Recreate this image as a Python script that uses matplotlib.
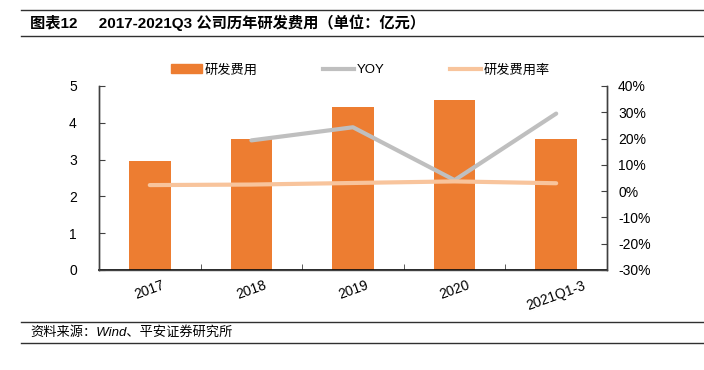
import matplotlib.pyplot as plt
import numpy as np
from matplotlib.lines import Line2D
from matplotlib.patches import Patch

plt.rcParams['font.family'] = ['Liberation Sans', 'Noto Sans CJK SC']

years = ['2017', '2018', '2019', '2020', '2021Q1-3']
rd_cost = [2.97, 3.57, 4.44, 4.63, 3.57]          # 亿元
yoy = [np.nan, 0.193, 0.243, 0.042, 0.295]
rd_rate = [0.023, 0.025, 0.031, 0.037, 0.030]

c_bar = '#ED7D31'
c_yoy = '#BFBFBF'
c_rate = '#F8C49C'

fig = plt.figure(figsize=(7.04, 3.70), dpi=100)
ax = fig.add_axes([0.1406, 0.2703, 0.7216, 0.4973])
ax2 = ax.twinx()

x = np.arange(len(years))
ax.bar(x, rd_cost, width=0.41, color=c_bar, zorder=2)
ax2.plot(x, yoy, color=c_yoy, lw=3, solid_capstyle='round', zorder=3)
ax2.plot(x, rd_rate, color=c_rate, lw=3, solid_capstyle='round', zorder=3)

ax.set_zorder(1)
ax2.set_zorder(2)
ax.patch.set_visible(False)

ax.set_xlim(-0.5, 4.5)
ax.set_ylim(0, 5)
ax2.set_ylim(-0.3, 0.4)
ax.set_yticks(range(6))
ax2.set_yticks(np.arange(-0.3, 0.41, 0.1))
ax2.set_yticklabels([f'{v:.0f}%' for v in np.arange(-30, 41, 10)])

ax.set_xticks(x)
ax.set_xticklabels(years, rotation=20)
ax.set_xticks(np.arange(0.5, 4, 1), minor=True)
ax.tick_params(axis='x', which='major', length=0, pad=6, labelsize=10)
ax.tick_params(axis='x', which='minor', direction='in', length=4, color='#404040')
ax.tick_params(axis='y', direction='in', length=4, labelsize=10, pad=16, color='#404040')
ax2.tick_params(axis='y', direction='in', length=4, labelsize=10, pad=8, color='#404040')

for a in (ax, ax2):
    a.spines['top'].set_visible(False)
    for s in ('left', 'right', 'bottom'):
        a.spines[s].set_color('#404040')
        a.spines[s].set_linewidth(1)
ax.spines['bottom'].set_color('black')
ax.spines['bottom'].set_linewidth(1.2)

# legend
handles = [Patch(color=c_bar), Line2D([], [], color=c_yoy, lw=3),
           Line2D([], [], color=c_rate, lw=3)]
fig.legend(handles, ['研发费用', 'YOY', '研发费用率'], loc='center',
           bbox_to_anchor=(0.512, 0.81), ncol=3, frameon=False, fontsize=9.5,
           handlelength=2.3, handleheight=0.7, columnspacing=5.0, handletextpad=0.2)

# header / footer
fig.add_artist(Line2D([0.03, 1.0], [0.972, 0.972], color='#303030', lw=1))
fig.add_artist(Line2D([0.03, 1.0], [0.902, 0.902], color='#303030', lw=1))
fig.text(0.043, 0.938, '图表12     2017-2021Q3 公司历年研发费用（单位：亿元）',
         fontsize=11, fontweight='bold', va='center')

fig.add_artist(Line2D([0.03, 1.0], [0.130, 0.130], color='#303030', lw=1))
fig.add_artist(Line2D([0.03, 1.0], [0.073, 0.073], color='#303030', lw=1))
fig.text(0.043, 0.101, '资料来源：Wind、平安证券研究所', fontsize=9.5,
         style='italic', va='center')

fig.savefig('out.png', dpi=100)
